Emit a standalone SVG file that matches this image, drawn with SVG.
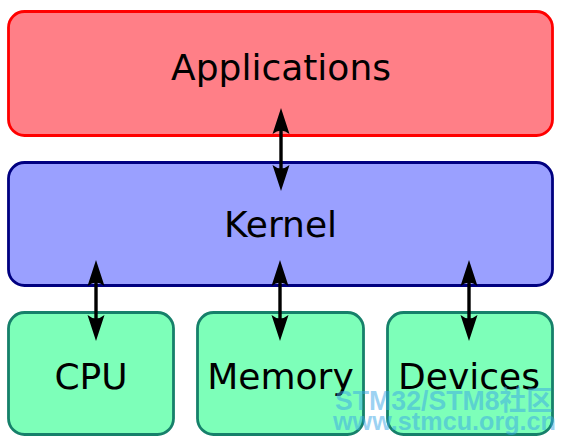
<svg xmlns="http://www.w3.org/2000/svg" width="566" height="445" viewBox="0 0 566 445">
<style>
.box{stroke-width:2.8}
.app{fill:#ff7f87;stroke:#ff0000}
.ker{fill:#9aa0ff;stroke:#000080}
.hw{fill:#7dffb9;stroke:#16806a}
.lbl{font-family:"DejaVu Sans",sans-serif;font-size:36px;fill:#000;text-anchor:middle}
.conn{stroke:#000;stroke-width:3.4;fill:none;marker-start:url(#ah);marker-end:url(#ah)}
.wm{font-family:"Liberation Sans","Noto Sans CJK SC",sans-serif;font-weight:bold;fill:#3aa6e6;fill-opacity:0.5}
</style>
<defs>
<marker id="ah" markerUnits="userSpaceOnUse" orient="auto-start-reverse" refX="0" refY="0" markerWidth="40" markerHeight="40" viewBox="-20 -20 40 40" overflow="visible">
<path d="M11,0 L-15,-8.5 Q-8,0 -15,8.5 Z" fill="#000"/>
</marker>
</defs>
<g id="applications">
<rect class="box app" x="8.5" y="11.5" width="544" height="124" rx="16"/>
<text class="lbl" x="281" y="80">Applications</text>
</g>
<g id="kernel">
<rect class="box ker" x="8.5" y="162.5" width="544" height="123" rx="16"/>
<text class="lbl" x="280.5" y="237">Kernel</text>
</g>
<g id="cpu">
<rect class="box hw" x="8.5" y="312.5" width="165" height="122" rx="16"/>
<text class="lbl" x="91" y="389">CPU</text>
</g>
<g id="memory">
<rect class="box hw" x="197.5" y="312.5" width="166" height="122" rx="16"/>
<text class="lbl" x="280.5" y="389">Memory</text>
</g>
<g id="devices">
<rect class="box hw" x="387.5" y="312.5" width="165" height="122" rx="16"/>
<text class="lbl" x="469" y="389">Devices</text>
</g>
<g id="connectors">
<line class="conn" x1="281" y1="119" x2="281" y2="180"/>
<line class="conn" x1="96" y1="271" x2="96" y2="330"/>
<line class="conn" x1="280" y1="271" x2="280" y2="330"/>
<line class="conn" x1="469" y1="271" x2="469" y2="330"/>
</g>
<g id="watermark">
<text class="wm" x="335" y="410" font-size="27" textLength="218" lengthAdjust="spacingAndGlyphs">STM32/STM8社区</text>
<text class="wm" x="333" y="430" font-size="26" textLength="223" lengthAdjust="spacingAndGlyphs">www.stmcu.org.cn</text>
</g>
</svg>
